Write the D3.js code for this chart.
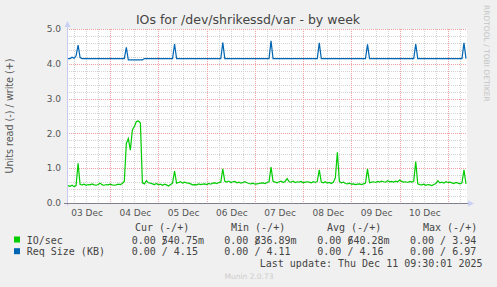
<!DOCTYPE html>
<html>
<head>
<meta charset="utf-8">
<script src="https://cdn.jsdelivr.net/npm/d3@7"></script>
<style>
  html, body { margin: 0; padding: 0; background: #f0f0f0; }
  svg { display: block; }
  text { font-family: "DejaVu Sans", sans-serif; }
  .mono { font-family: "DejaVu Sans Mono", monospace; white-space: pre; }
</style>
</head>
<body>
<svg id="chart" width="497" height="287"></svg>
<script>
// hourly samples from Dec 3 03:00 to Dec 11 09:00 (UTC)
const sampleStart = Date.UTC(2025, 11, 3, 3, 0)
const sampleStepHours = 1

const ioPerSec = [
  0.50, 0.48, 0.51, 0.47, 0.50, 1.14, 0.53, 0.52, 0.54, 0.51, 0.53, 0.52, 0.55, 0.52, 0.51, 0.53, 0.57, 0.52, 0.51, 0.53, 0.52, 0.54, 0.52, 0.51,
  0.52, 0.54, 0.53, 0.56, 0.62, 1.71, 1.85, 1.52, 2.10, 2.20, 2.34, 2.36, 2.30, 0.58, 0.55, 0.64, 0.58, 0.57, 0.55, 0.53, 0.56, 0.52, 0.54, 0.51,
  0.54, 0.52, 0.49, 0.53, 0.57, 0.92, 0.57, 0.59, 0.61, 0.57, 0.60, 0.58, 0.57, 0.55, 0.52, 0.53, 0.52, 0.55, 0.53, 0.54, 0.55, 0.53, 0.56, 0.54,
  0.57, 0.58, 0.56, 0.59, 0.60, 0.98, 0.62, 0.60, 0.63, 0.59, 0.61, 0.62, 0.58, 0.60, 0.57, 0.59, 0.61, 0.58, 0.56, 0.55, 0.57, 0.54, 0.55, 0.56,
  0.57, 0.58, 0.56, 0.59, 0.61, 1.03, 0.62, 0.60, 0.58, 0.61, 0.63, 0.59, 0.62, 0.70, 0.61, 0.60, 0.63, 0.59, 0.61, 0.60, 0.62, 0.58, 0.60, 0.61,
  0.60, 0.58, 0.61, 0.59, 0.62, 0.95, 0.60, 0.58, 0.61, 0.57, 0.59, 0.56, 0.60, 0.72, 1.46, 0.62, 0.58, 0.60, 0.56, 0.55, 0.57, 0.54, 0.55, 0.53,
  0.54, 0.55, 0.53, 0.55, 0.57, 0.98, 0.58, 0.60, 0.61, 0.59, 0.62, 0.60, 0.63, 0.61, 0.60, 0.64, 0.61, 0.62, 0.60, 0.63, 0.61, 0.66, 0.62, 0.60,
  0.61, 0.59, 0.62, 0.60, 0.63, 1.19, 0.55, 0.53, 0.52, 0.54, 0.51, 0.53, 0.52, 0.50, 0.53, 0.56, 0.64, 0.58, 0.60, 0.57, 0.61, 0.59, 0.60, 0.58,
  0.56, 0.59, 0.57, 0.55, 0.58, 0.95, 0.55
]

const reqSizeKB = [
  4.15, 4.15, 4.19, 4.16, 4.23, 4.54, 4.18, 4.15, 4.15, 4.15, 4.15, 4.15, 4.15, 4.15, 4.15, 4.15, 4.15, 4.15, 4.15, 4.15, 4.15, 4.15, 4.15, 4.15,
  4.15, 4.15, 4.15, 4.15, 4.15, 4.47, 4.11, 4.11, 4.11, 4.11, 4.11, 4.11, 4.11, 4.11, 4.15, 4.15, 4.15, 4.15, 4.15, 4.15, 4.15, 4.15, 4.15, 4.15,
  4.15, 4.15, 4.15, 4.15, 4.15, 4.57, 4.15, 4.15, 4.15, 4.15, 4.15, 4.15, 4.15, 4.15, 4.15, 4.15, 4.15, 4.15, 4.15, 4.15, 4.15, 4.15, 4.15, 4.15,
  4.15, 4.15, 4.15, 4.15, 4.15, 4.61, 4.15, 4.15, 4.15, 4.15, 4.15, 4.15, 4.15, 4.15, 4.15, 4.15, 4.15, 4.15, 4.15, 4.15, 4.15, 4.15, 4.15, 4.15,
  4.15, 4.15, 4.15, 4.15, 4.15, 4.66, 4.15, 4.15, 4.15, 4.15, 4.15, 4.15, 4.15, 4.15, 4.15, 4.15, 4.15, 4.15, 4.15, 4.15, 4.15, 4.15, 4.15, 4.15,
  4.15, 4.15, 4.15, 4.15, 4.15, 4.60, 4.15, 4.15, 4.15, 4.15, 4.15, 4.15, 4.15, 4.15, 4.15, 4.15, 4.15, 4.15, 4.15, 4.15, 4.15, 4.15, 4.15, 4.15,
  4.15, 4.15, 4.15, 4.15, 4.15, 4.56, 4.15, 4.15, 4.15, 4.15, 4.15, 4.15, 4.15, 4.15, 4.15, 4.15, 4.15, 4.15, 4.15, 4.15, 4.15, 4.15, 4.15, 4.15,
  4.15, 4.15, 4.15, 4.15, 4.15, 4.57, 4.15, 4.15, 4.15, 4.15, 4.15, 4.15, 4.15, 4.15, 4.15, 4.15, 4.15, 4.15, 4.15, 4.15, 4.15, 4.15, 4.15, 4.15,
  4.15, 4.15, 4.15, 4.15, 4.15, 4.60, 4.15
]

const yTicks = [0, 1, 2, 3, 4, 5]
const seriesNames = ['IO/sec', 'Req Size (KB)']
const seriesColors = ['#00cc00', '#0066b3']
const statHeaders = ['Cur (-/+)', 'Min (-/+)', 'Avg (-/+)', 'Max (-/+)']
const ioStats = [['0.00', '540.75m'], ['0.00', '836.89m'], ['0.00', '640.28m'], ['0.00', '3.94']]
const reqStats = [['0.00', '4.15'], ['0.00', '4.11'], ['0.00', '4.16'], ['0.00', '6.97']]

const titleText = 'IOs for /dev/shrikessd/var - by week'
const yTitle = 'Units read (-) / write (+)'
const lastUpdate = 'Last update: Thu Dec 11 09:30:01 2025'

const plotLeft = 67, plotRight = 467, plotTop = 29, plotBottom = 203

const x = d3.scaleUtc()
  .domain([new Date(Date.UTC(2025, 11, 3, 2, 29)), new Date(Date.UTC(2025, 11, 11, 9, 30))])
  .range([plotLeft, plotRight])
const y = d3.scaleLinear().domain([0, 5]).range([plotBottom, plotTop])

const toPoints = (values) => values.map((v, i) => ({
  t: new Date(sampleStart + i * sampleStepHours * 3600e3), v
}))

const svg = d3.select('#chart')

svg.append('rect').attr('x', plotLeft).attr('y', plotTop)
  .attr('width', plotRight - plotLeft).attr('height', plotBottom - plotTop).attr('fill', '#ffffff')

// minor grid
const grid = svg.append('g').attr('shape-rendering', 'crispEdges')
const minorY = d3.range(0, 5.01, 0.2).filter(v => Math.abs(v - Math.round(v)) > 0.01)
grid.selectAll('line.my').data(minorY).join('line')
  .attr('x1', plotLeft).attr('x2', plotRight)
  .attr('y1', d => Math.round(y(d)) + 0.5).attr('y2', d => Math.round(y(d)) + 0.5)
  .attr('stroke', '#d4d4d4').attr('stroke-dasharray', '1,1')
const minorX = d3.utcHour.every(6).range(x.domain()[0], x.domain()[1])
  .filter(d => d.getUTCHours() !== 0)
grid.selectAll('line.mx').data(minorX).join('line')
  .attr('x1', d => Math.round(x(d)) + 0.5).attr('x2', d => Math.round(x(d)) + 0.5)
  .attr('y1', plotTop).attr('y2', plotBottom)
  .attr('stroke', '#d4d4d4').attr('stroke-dasharray', '1,1')

// major grid
grid.selectAll('line.My').data(yTicks).join('line')
  .attr('x1', plotLeft).attr('x2', plotRight)
  .attr('y1', d => Math.round(y(d)) + 0.5).attr('y2', d => Math.round(y(d)) + 0.5)
  .attr('stroke', '#f0a0a0').attr('stroke-dasharray', '1,1')
const days = d3.utcDay.range(x.domain()[0], x.domain()[1])
grid.selectAll('line.Mx').data(days).join('line')
  .attr('x1', d => Math.round(x(d)) + 0.5).attr('x2', d => Math.round(x(d)) + 0.5)
  .attr('y1', plotTop).attr('y2', plotBottom)
  .attr('stroke', '#f0a0a0').attr('stroke-dasharray', '1,1')

// series
const line = d3.line().x(d => x(d.t)).y(d => y(d.v))
;[ioPerSec, reqSizeKB].forEach((values, i) => {
  svg.append('path').datum(toPoints(values))
    .attr('d', line).attr('fill', 'none')
    .attr('stroke', seriesColors[i]).attr('stroke-width', 1.2)
})

// axes
svg.append('line').attr('x1', plotLeft + 0.5).attr('x2', plotLeft + 0.5).attr('y1', plotBottom + 3).attr('y2', 24)
  .attr('stroke', '#c8c8f0')
svg.append('path').attr('d', `M${plotLeft - 2.5},27 L${plotLeft + 3.5},27 L${plotLeft + 0.5},21 Z`).attr('fill', '#c8d0f4')
svg.append('line').attr('x1', plotLeft - 3).attr('x2', plotRight + 3).attr('y1', plotBottom + 0.5).attr('y2', plotBottom + 0.5)
  .attr('stroke', '#80808c')
svg.append('path').attr('d', `M${plotRight + 1},${plotBottom - 2.5} L${plotRight + 1},${plotBottom + 3.5} L${plotRight + 7},${plotBottom + 0.5} Z`)
  .attr('fill', '#c8d0f4')

svg.append('g').selectAll('text').data(yTicks).join('text')
  .attr('x', 61).attr('y', d => y(d)).attr('dy', '0.35em')
  .attr('text-anchor', 'end').attr('font-size', 9).attr('fill', '#555')
  .text(d => d3.format('.1f')(d))

const labelDays = days.map(d => d3.utcHour.offset(d, 12)).concat([new Date(Date.UTC(2025, 11, 3, 12))])
  .filter(d => d >= x.domain()[0] && d <= x.domain()[1])
svg.append('g').selectAll('text').data(labelDays).join('text')
  .attr('x', d => x(d) + 1).attr('y', 213).attr('dy', '0.35em')
  .attr('text-anchor', 'middle').attr('font-size', 9).attr('fill', '#555')
  .text(d3.utcFormat('%d %b'))

// titles
svg.append('text').attr('x', 248).attr('y', 24).attr('text-anchor', 'middle')
  .attr('font-size', 12.5).attr('fill', '#444').text(titleText)
svg.append('text').attr('transform', 'translate(13,116) rotate(-90)')
  .attr('text-anchor', 'middle').attr('font-size', 9.6).attr('fill', '#555').text(yTitle)
svg.append('text').attr('transform', 'translate(484,5) rotate(90)')
  .attr('font-size', 7.5).attr('fill', '#c4c4c4').text('RRDTOOL / TOBI OETIKER')

// legend
const legend = svg.append('g').attr('class', 'mono').attr('font-size', 10).attr('fill', '#444')
const headerX = [135, 231, 327, 423]
const colX = [131.7, 224.3, 317.3, 410]
const charW = 6.02
statHeaders.forEach((h, i) => {
  legend.append('text').attr('class', 'mono').attr('x', headerX[i]).attr('y', 231).text(h)
})
;[ioStats, reqStats].forEach((stats, r) => {
  const rowY = 243.5 + r * 11.7
  legend.append('rect').attr('x', 14).attr('y', rowY - 7).attr('width', 6).attr('height', 6)
    .attr('fill', seriesColors[r])
  legend.append('text').attr('class', 'mono').attr('x', 26.7).attr('y', rowY).text(seriesNames[r])
  stats.forEach((s, c) => {
    legend.append('text').attr('class', 'mono').attr('x', colX[c]).attr('y', rowY).text(s[0] + ' /')
    const valX = s[1].length > 5 ? colX[c] + 5 * charW : colX[c] + 7 * charW
    legend.append('text').attr('class', 'mono').attr('x', valX).attr('y', rowY).text(s[1])
  })
})
legend.append('text').attr('class', 'mono').attr('x', 482.5).attr('y', 266.5)
  .attr('text-anchor', 'end').text(lastUpdate)

svg.append('text').attr('x', 249).attr('y', 279).attr('text-anchor', 'middle')
  .attr('font-size', 7.5).attr('fill', '#cccccc').text('Munin 2.0.73')
</script>
</body>
</html>
